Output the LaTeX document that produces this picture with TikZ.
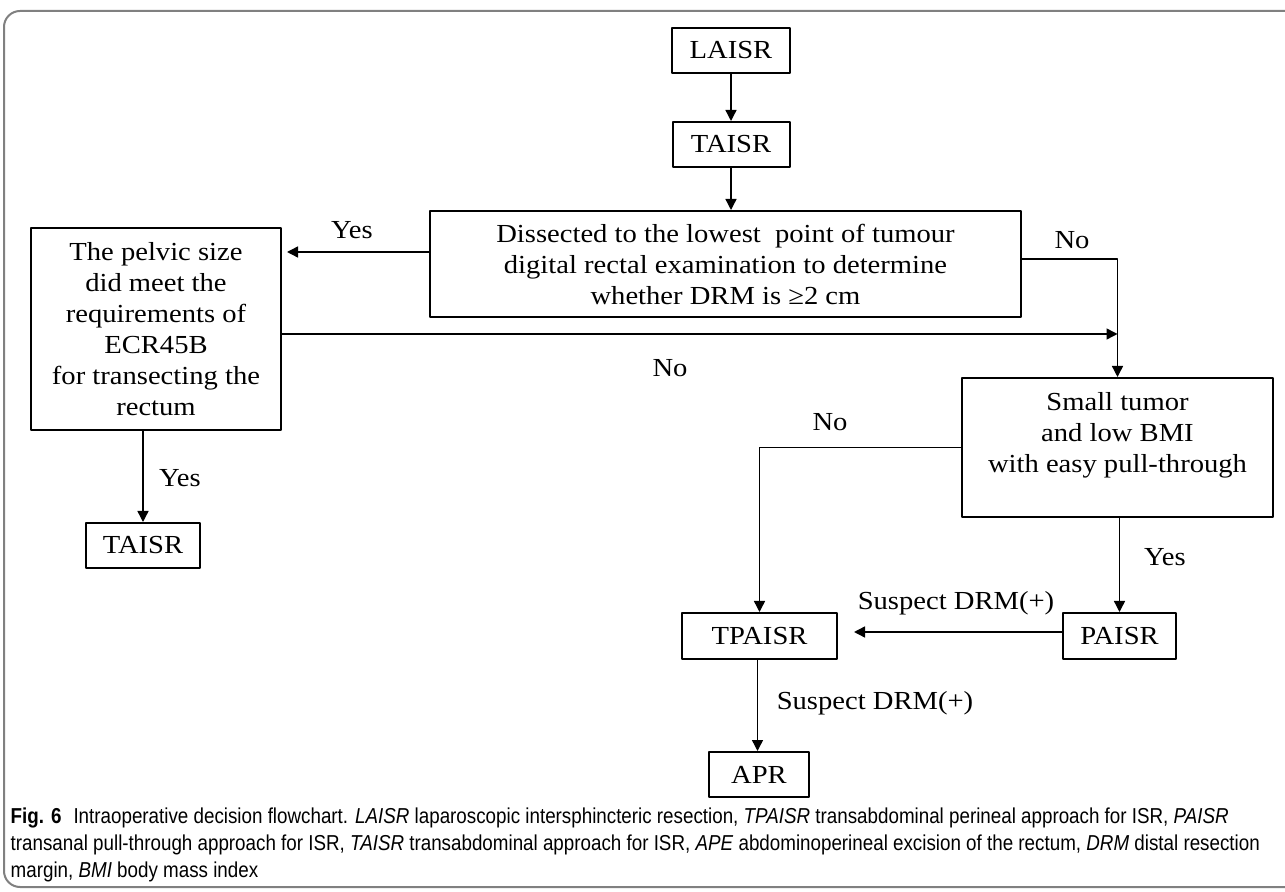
\documentclass[tikz,border=0pt]{standalone}
\usepackage{fontspec}
\setmainfont{Liberation Serif}[FakeStretch=1.1]
\newfontfamily\capfont{Liberation Sans}[FakeStretch=0.87]
\usetikzlibrary{arrows.meta}

\tikzset{
  box/.style={draw, line width=1pt, align=center, inner sep=0pt, font=\fontsize{13}{15.5}\selectfont},
  yesno/.style={font=\fontsize{13}{15.5}\selectfont},
  capline/.style={anchor=west, inner sep=0pt, font=\capfont\fontsize{10.8}{13}\selectfont}
}

\begin{document}
\begin{tikzpicture}[x=0.5pt, y=-0.5pt, line join=round, line width=0.7pt, >={Triangle[length=5.5pt,width=5.5pt]}]
\useasboundingbox (0,0) rectangle (1285,892);
\draw[gray, line width=1pt, rounded corners=8pt] (4,11) rectangle (1310,887);
% boxes
\node[box, minimum width=59pt, minimum height=22.5pt] (laisr) at (731,50.5) {LAISR};
\node[box, minimum width=58.5pt, minimum height=22.5pt] (taisr) at (731,144.5) {TAISR};
\node[box, minimum width=295.5pt, minimum height=53pt] (dis) at (725.5,264) {Dissected to the lowest\ \ point of tumour\\ digital rectal examination to determine\\ whether DRM is ≥2 cm};
\node[box, minimum width=125pt, minimum height=101pt] (pel) at (156,329) {The pelvic size\\ did meet the\\ requirements of\\ ECR45B\\ for transecting the\\ rectum};
\node[box, minimum width=57pt, minimum height=22.5pt] (taisrb) at (143,545.5) {TAISR};
\node[box, minimum width=155.5pt, minimum height=69.5pt] (small) at (1117.5,447.5) {Small tumor\\ and low BMI\\ with easy pull-through\\ ~};
\node[box, minimum width=77.5pt, minimum height=23pt] (tp) at (759.5,636) {TPAISR};
\node[box, minimum width=56.5pt, minimum height=23pt] (pa) at (1119.5,636) {PAISR};
\node[box, minimum width=50pt, minimum height=22.5pt] (apr) at (759,774.5) {APR};
% labels
\node[yesno] (yes1) at (352,230) {Yes};
\node[yesno] (no1) at (1072,240) {No};
\node[yesno] (no2) at (670,368) {No};
\node[yesno] (yes2) at (180,478) {Yes};
\node[yesno] (no3) at (830,422) {No};
\node[yesno] (yes3) at (1165,557) {Yes};
\node[yesno] (sus1) at (956,603) {Suspect DRM(+)};
\node[yesno] (sus2) at (875,703) {Suspect DRM(+)};
% connectors
\coordinate (join) at ([yshift=-2.5pt]small.north |- pel.east);
\draw[->] (laisr) -- (taisr);
\draw[->] (taisr.south) -- (taisr.south |- dis.north);
\draw[->, shorten >=2.5pt] ([yshift=6pt]dis.west) -- ([yshift=6pt]dis.west -| pel.east);
\draw[->] ([yshift=2.5pt]dis.east) -| (small);
\draw[->] ([yshift=-2.5pt]pel.east) -- (join);
\draw[->] (small.west) -| (tp);
\draw[->] (pa.north |- small.south) -- (pa.north);
\draw[->, shorten >=8pt] ([yshift=2pt]pa.west) -- ([yshift=2pt]pa.west -| tp.east);
\draw[->] ([xshift=-1pt]tp.south) -- ([xshift=-1pt]tp.south |- apr.north);
\draw[->] (pel.south -| taisrb.north) -- (taisrb.north);
% caption
\node[capline] (cap1) at (10,818) {{\bfseries Fig. 6}\hspace{6pt}Intraoperative decision flowchart. \textit{LAISR} laparoscopic intersphincteric resection, \textit{TPAISR} transabdominal perineal approach for ISR, \textit{PAISR}};
\node[capline] (cap2) at (10,845) {transanal pull-through approach for ISR, \textit{TAISR} transabdominal approach for ISR, \textit{APE} abdominoperineal excision of the rectum, \textit{DRM} distal resection};
\node[capline] (cap3) at (10,872) {margin, \textit{BMI} body mass index};
\end{tikzpicture}
\end{document}
